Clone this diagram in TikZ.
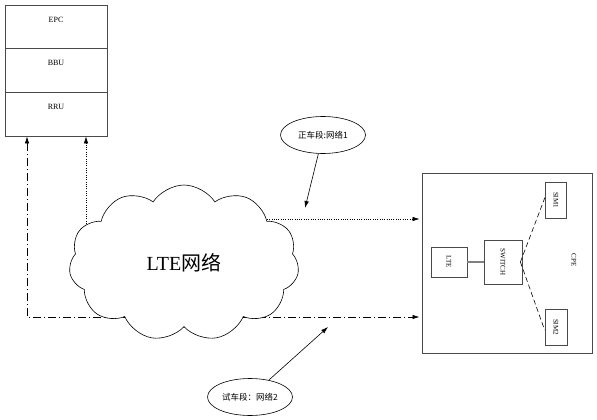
\documentclass[tikz,border=0pt]{standalone}
\usepackage{fontspec}
\setmainfont{Liberation Serif}
\newfontfamily\cjk{Noto Sans CJK SC}
\usepackage{tikz}
\usetikzlibrary{arrows.meta, shapes.symbols, shapes.geometric}
\definecolor{frame}{HTML}{4A4A4A}

\begin{document}
\begin{tikzpicture}[x=1pt, y=-1pt,
  layer/.style={rectangle, draw=frame, line width=0.9pt, minimum width=102pt,
                minimum height=43.5pt, text height=6pt, text depth=16pt,
                font=\footnotesize, anchor=north},
  inbox/.style={rectangle, draw=frame, line width=0.8pt, font=\scriptsize,
                inner sep=1pt},
  tag/.style={ellipse, draw, line width=0.6pt, minimum width=85pt,
              minimum height=37pt, inner sep=0pt, font=\cjk\fontsize{8.5}{9}\selectfont},
  tip/.style={-{Latex[length=7pt, width=4.5pt]}},
  dotline/.style={line width=0.6pt, dash pattern=on 1pt off 1.3pt},
  dashdotline/.style={line width=0.7pt, dash pattern=on 8pt off 3pt on 1pt off 3pt},
  simline/.style={line width=0.6pt, dash pattern=on 5pt off 3pt},
]
\useasboundingbox (0,0) rectangle (597,420);

% left stack
\node[layer] (epc) at (56,5) {EPC};
\node[layer] (bbu) at (56,48.5) {BBU};
\node[layer] (rru) at (56,92) {RRU};

% CPE
\node[rectangle, draw=frame, line width=1pt, minimum width=170pt,
      minimum height=180pt] (cpe) at (507,263) {};
\node[font=\scriptsize] (cpetext) at (574,260) {\rotatebox{-90}{CPE}};
\node[inbox, minimum width=36pt, minimum height=30pt] (ltebox) at (449,262) {\rotatebox{-90}{LTE}};
\node[inbox, minimum width=38pt, minimum height=44pt] (switch) at (503,262) {\rotatebox{-90}{SWITCH}};
\node[inbox, minimum width=21pt, minimum height=36pt] (sim1) at (556,200) {\rotatebox{-90}{SIM1}};
\node[inbox, minimum width=22pt, minimum height=36pt] (sim2) at (556,327) {\rotatebox{-90}{SIM2}};

\draw[line width=1.6pt, gray] (ltebox) -- (switch);
\draw[simline] ([xshift=-2pt]switch.east) -- ([yshift=3pt]sim1.west);
\draw[simline] ([xshift=-2pt]switch.east) -- ([yshift=-3pt]sim2.west);

% links (the cloud covers their inner ends)
\coordinate (up1) at (86,240);
\coordinate (right1) at (260,219);
\coordinate (corner) at (27,317);
\draw[dotline, tip] (up1) -- (up1 |- rru.south);
\draw[dotline, tip] (right1) -- ([xshift=-2pt]cpe.west |- right1);
\draw[dashdotline, {Latex[length=7pt, width=4.5pt]}-{Latex[length=7pt, width=4.5pt]}]
  (corner |- rru.south) -- (corner) -- ([xshift=-2pt]cpe.west |- corner);

% cloud
\node[cloud, draw, fill=white, line width=0.6pt, cloud puffs=11, cloud puff arc=115,
      minimum width=230pt, minimum height=156pt, inner sep=0pt,
      font=\fontsize{20}{22}\selectfont] (lte) at (184,263) {LTE{\cjk 网络}};

% labels
\node[tag] (net1) at (323,135) {正车段:网络1};
\node[tag] (net2) at (250,397) {试车段：网络2};
\coordinate (hit1) at (305,208);
\coordinate (hit2) at (328,327);
\draw[line width=0.6pt, tip] (net1) -- (hit1);
\draw[line width=0.6pt, tip] (net2) -- (hit2);

\end{tikzpicture}
\end{document}
